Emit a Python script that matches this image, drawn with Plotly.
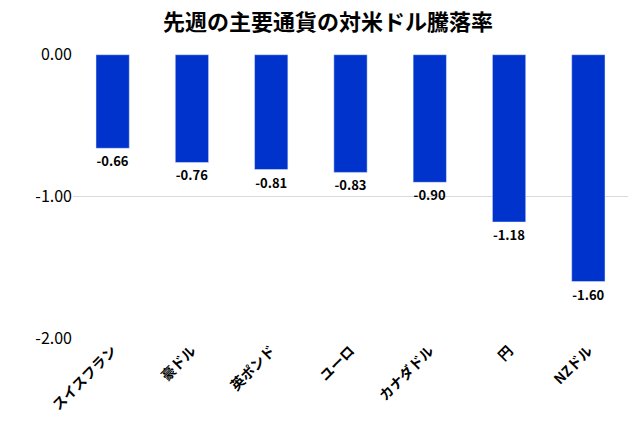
import plotly.graph_objects as go

currencies = ["スイスフラン", "豪ドル", "英ポンド", "ユーロ", "カナダドル", "円", "NZドル"]
changes = [-0.66, -0.76, -0.81, -0.83, -0.90, -1.18, -1.60]
labels = ["<b>%.2f</b>" % v for v in changes]

fig = go.Figure(go.Bar(
    x=currencies, y=changes, text=labels, textposition="outside",
    marker_color="#0033CC", width=0.42, cliponaxis=False,
    textfont=dict(size=13, color="black", family="Noto Sans CJK JP"),
))

fig.update_layout(
    width=640, height=425,
    title=dict(text="<b>先週の主要通貨の対米ドル騰落率</b>", x=0.5, y=0.985, yanchor="top",
               font=dict(size=22, color="black", family="Noto Sans CJK JP")),
    margin=dict(l=65, r=20, t=46, b=94, autoexpand=False),
    plot_bgcolor="white", paper_bgcolor="white",
    font=dict(family="Noto Sans CJK JP", color="black"),
    showlegend=False,
)
fig.update_yaxes(range=[-2.005, 0.005], tickvals=[0, -1, -2],
                 ticktext=["0.00", "-1.00", "-2.00"],
                 gridcolor="#d9d9d9", zeroline=False,
                 tickfont=dict(size=16), ticksuffix="  ")
fig.update_xaxes(tickangle=-45, tickfont=dict(size=14), showline=False,
                 ticktext=["<b>%s</b>" % c for c in currencies], tickvals=currencies)

fig.write_html("out.html")
